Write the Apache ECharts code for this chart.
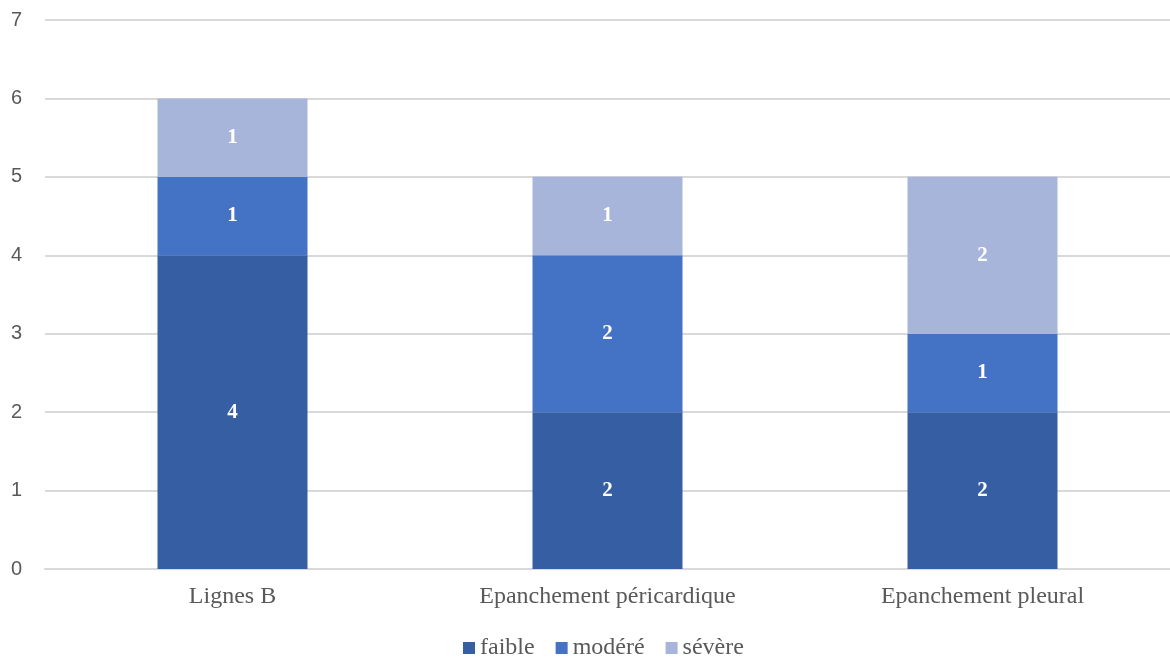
<!DOCTYPE html>
<html>
<head>
<meta charset="utf-8">
<script src="https://cdn.jsdelivr.net/npm/echarts@6/dist/echarts.min.js"></script>
<style>
html,body{margin:0;padding:0;background:#fff;}
#chart{width:1170px;height:664px;}
</style>
</head>
<body>
<div id="chart"></div>
<script>
// Categories and counts per severity level
const categories = ['Lignes B', 'Epanchement péricardique', 'Epanchement pleural'];
const faible = [4, 2, 2];
const modere = [1, 2, 1];
const severe = [1, 1, 2];
const yTicks = [0, 1, 2, 3, 4, 5, 6, 7];

const serif = 'Liberation Serif';
const sans = 'Liberation Sans';

const labelStyle = {
  show: true,
  position: 'inside',
  color: '#ffffff',
  fontFamily: serif,
  fontWeight: 'bold',
  fontSize: 21
};

function makeSeries(name, data, color) {
  return {
    name: name,
    type: 'bar',
    stack: 'total',
    data: data,
    barWidth: '40%',
    itemStyle: { color: color },
    label: labelStyle,
    emphasis: { disabled: true }
  };
}

const chart = echarts.init(document.getElementById('chart'));
chart.setOption({
  animation: false,
  grid: { left: 45, right: 0, top: 20, bottom: 95 },
  legend: {
    top: 631,
    left: 458,
    itemWidth: 12,
    itemHeight: 12,
    itemGap: 21,
    icon: 'rect',
    textStyle: { fontFamily: serif, fontSize: 24, color: '#595959' },
    data: ['faible', 'modéré', 'sévère']
  },
  xAxis: {
    type: 'category',
    data: categories,
    axisTick: { show: false },
    axisLine: { lineStyle: { color: '#d9d9d9', width: 2 } },
    axisLabel: { fontFamily: serif, fontSize: 24, color: '#595959', margin: 16 }
  },
  yAxis: {
    type: 'value',
    min: yTicks[0],
    max: yTicks[yTicks.length - 1],
    interval: 1,
    axisLine: { show: false },
    axisTick: { show: false },
    splitLine: { lineStyle: { color: '#d9d9d9', width: 2 } },
    axisLabel: { fontFamily: sans, fontSize: 20, color: '#595959', margin: 23 }
  },
  series: [
    makeSeries('faible', faible, '#365fa3'),
    makeSeries('modéré', modere, '#4472c4'),
    makeSeries('sévère', severe, '#a8b5da')
  ]
});
</script>
</body>
</html>
